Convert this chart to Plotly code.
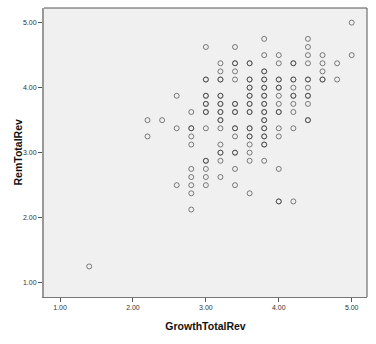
import plotly.graph_objects as go

# GrowthTotalRev columns -> RemTotalRev values (repeated values = overlapping cases)
g140 = [1.25]
g220 = [3.5, 3.25]
g240 = [3.5]
g260 = [3.875, 3.375, 2.5]
g280 = [3.625, 3.375, 3.375, 3.25, 3.125, 2.75, 2.625, 2.5, 2.375, 2.125]
g300 = [4.625, 4.125, 4.125, 3.875, 3.875, 3.75, 3.75, 3.625, 3.625, 3.375, 2.875, 2.875, 2.75, 2.625, 2.5]
g320 = [4.375, 4.25, 4.125, 4.125, 3.875, 3.875, 3.75, 3.75, 3.625, 3.625, 3.5, 3.5, 3.375, 3.125, 3.0, 3.0, 2.875, 2.625]
g340 = [4.625, 4.375, 4.375, 4.25, 4.125, 3.75, 3.75, 3.625, 3.625, 3.375, 3.375, 3.25, 3.0, 3.0, 2.75, 2.5]
g360 = [4.375, 4.375, 4.125, 4.125, 4.0, 4.0, 3.875, 3.875, 3.75, 3.75, 3.625, 3.625, 3.375, 3.375, 3.25, 3.25, 3.125, 3.0, 2.875, 2.375]
g380 = [4.75, 4.5, 4.25, 4.25, 4.125, 4.125, 4.0, 4.0, 3.875, 3.875, 3.75, 3.75, 3.625, 3.625, 3.5, 3.5, 3.375, 3.375, 3.25, 3.25, 3.125, 3.125, 2.875]
g400 = [4.5, 4.375, 4.125, 4.125, 4.0, 4.0, 3.875, 3.75, 3.625, 3.625, 3.375, 3.25, 2.75, 2.25, 2.25]
g420 = [4.375, 4.375, 4.125, 4.125, 4.0, 3.875, 3.875, 3.75, 3.625, 3.375, 2.25]
g440 = [4.75, 4.625, 4.5, 4.375, 4.125, 4.125, 4.0, 3.875, 3.875, 3.75, 3.5, 3.5]
g460 = [4.5, 4.375, 4.25, 4.125, 4.125]
g480 = [4.375, 4.125]
g500 = [5.0, 4.5]

growth_levels = [1.4, 2.2, 2.4, 2.6, 2.8, 3.0, 3.2, 3.4, 3.6, 3.8, 4.0, 4.2, 4.4, 4.6, 4.8, 5.0]
rem_columns = [g140, g220, g240, g260, g280, g300, g320, g340, g360, g380, g400, g420, g440, g460, g480, g500]

tick_vals = [1, 2, 3, 4, 5]
tick_text = ["1.00", "2.00", "3.00", "4.00", "5.00"]

xs, ys = [], []
for gx, col in zip(growth_levels, rem_columns):
    for v in col:
        xs.append(gx)
        ys.append(v)

fig = go.Figure(go.Scatter(
    x=xs, y=ys, mode="markers",
    marker=dict(symbol="circle-open", size=5, color="rgba(60,60,60,0.65)",
                line=dict(width=1, color="rgba(60,60,60,0.65)")),
    showlegend=False, hoverinfo="x+y",
))

axis_font = dict(family="Arial, Liberation Sans, sans-serif", size=7, color="#333")
title_font = dict(family="Arial, Liberation Sans, sans-serif", size=10.5, color="#111")

fig.update_layout(
    width=376, height=344,
    margin=dict(l=44, r=9, t=8, b=47, autoexpand=False),
    paper_bgcolor="white", plot_bgcolor="#f0f0f0",
    xaxis=dict(range=[0.78, 5.21], tickvals=tick_vals, ticktext=tick_text,
               showgrid=False, zeroline=False, ticks="outside", ticklen=4,
               tickcolor="#555", tickfont=axis_font, showline=True,
               linecolor="#777", linewidth=1, mirror=False,
               title=dict(text="<b>GrowthTotalRev</b>", font=title_font, standoff=12)),
    yaxis=dict(range=[0.78, 5.225], tickvals=tick_vals, ticktext=tick_text,
               showgrid=False, zeroline=False, ticks="outside", ticklen=4,
               tickcolor="#555", tickfont=axis_font, showline=True,
               linecolor="#999", linewidth=2, mirror=False),
    annotations=[dict(text="<b>RemTotalRev</b>", xref="paper", yref="paper",
                      x=-27 / 323, y=0.5, xanchor="center", yanchor="middle",
                      textangle=-90, showarrow=False, font=title_font)],
    shapes=[
        dict(type="line", xref="paper", yref="paper", x0=0, x1=1, y0=1, y1=1,
             line=dict(color="#555", width=1)),
        dict(type="line", xref="paper", yref="paper", x0=1, x1=1, y0=0, y1=1,
             line=dict(color="#555", width=1)),
    ],
)

fig.write_html("out.html")
